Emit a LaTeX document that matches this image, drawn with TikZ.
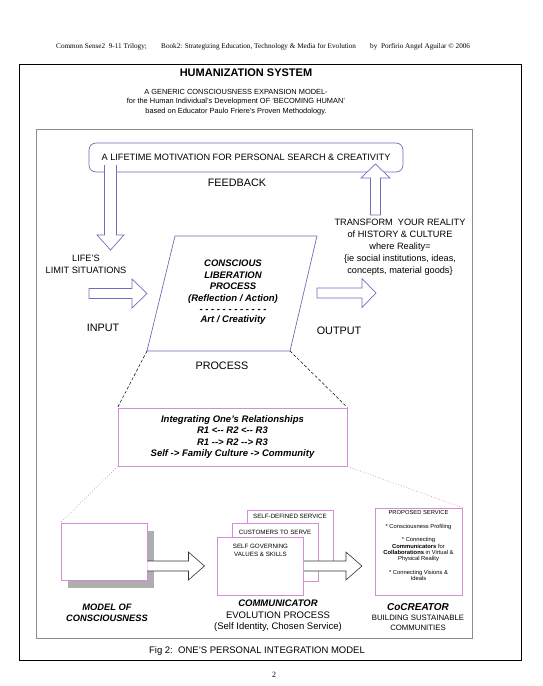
\documentclass[tikz,border=0pt]{standalone}
\usepackage{fontspec}
\setmainfont{Liberation Sans}
\newfontfamily\headfont{Liberation Serif}
\usetikzlibrary{positioning, shadows}
\definecolor{flowcol}{HTML}{6E6EBA}
\definecolor{relcol}{HTML}{D48CD4}
\definecolor{shadcol}{HTML}{AEAEAE}
\definecolor{framecol}{HTML}{8C8C8C}
\definecolor{blkcol}{HTML}{333333}

\begin{document}
\begin{tikzpicture}[
    x=1pt, y=-1pt,
    every node/.style={inner sep=0pt, align=center},
    hdr/.style={font=\headfont\fontsize{7.2}{8.6}\selectfont, anchor=west},
    ttl/.style={font=\fontsize{11}{13}\selectfont\bfseries},
    subttl/.style={font=\fontsize{7.4}{9.6}\selectfont},
    stage/.style={font=\fontsize{10.8}{13}\selectfont},
    note/.style={font=\fontsize{9.2}{12.2}\selectfont},
    bitxt/.style={font=\fontsize{9.5}{11.8}\selectfont\bfseries\itshape},
    flowbox/.style={draw=flowcol, fill=white, line width=0.7pt},
    flowarr/.style={draw=flowcol, fill=white, line width=0.7pt},
    relbox/.style={draw=relcol, fill=white, line width=0.9pt},
    stackbox/.style={relbox, minimum width=86, minimum height=58},
    stacklbl/.style={font=\fontsize{6.2}{8}\selectfont},
    blkarr/.style={draw=blkcol, fill=white, line width=0.6pt},
    zoomln/.style={line width=0.5pt, dash pattern=on 3pt off 2pt},
    zoomdot/.style={draw=relcol, dotted, line width=0.7pt},
]
\useasboundingbox (0,0) rectangle (542,686);

% === Page header ===
\node[hdr] (hdrA) at (56,47) {Common Sense2\ \ 9-11 Trilogy;};
\node[hdr] (hdrB) at (161,47) {Book2: Strategizing Education, Technology \& Media for Evolution};
\node[hdr] (hdrC) at (370,47) {by\ \ Porfirio Angel Aguilar © 2006};

% === Frames ===
\node[draw, line width=0.8pt, minimum width=502, minimum height=596] (page) at (270,362) {};
\node[draw=framecol, line width=0.6pt, minimum width=436, minimum height=509] (panel) at (254,383.5) {};

\node[ttl] (title) at (246,73) {HUMANIZATION SYSTEM};
\node[subttl] (subtitle) at (236,102) {A GENERIC CONSCIOUSNESS EXPANSION MODEL-\\
    for the Human Individual's Development OF `BECOMING HUMAN'\\
    based on Educator Paulo Friere's Proven Methodology.};

% === Feedback loop ===
\node[flowbox, rounded corners=7pt, minimum width=314, minimum height=29,
      font=\fontsize{9.2}{11}\selectfont] (motiv) at (246,157.5)
    {A LIFETIME MOTIVATION FOR PERSONAL SEARCH \& CREATIVITY};
\node[stage] (feedback) at (237,183) {FEEDBACK};

% === Process ===
\coordinate (pNW) at (175,236);
\coordinate (pNE) at (317,236);
\coordinate (pSE) at (290,351);
\coordinate (pSW) at (147,351);
\draw[flowbox] (pNW) -- (pNE) -- (pSE) -- (pSW) -- cycle;
\node[bitxt] (clp) at (233,292) {CONSCIOUS\\LIBERATION\\PROCESS\\(Reflection / Action)\\[-1pt]
    - - - - - - - - - - - -\\[-2pt]Art / Creativity};
\node[stage] (process) at (222,366) {PROCESS};

\node[note] (lifes) at (86,264.5) {LIFE'S\\LIMIT SITUATIONS};
\node[stage] (input) at (103,328) {INPUT};
\node[stage] (output) at (339,331) {OUTPUT};
\node[note, font=\fontsize{9.2}{12}\selectfont] (transform) at (400,247)
    {TRANSFORM\ \ YOUR REALITY\\of HISTORY \& CULTURE\\where Reality=\\
     \{ie social institutions, ideas,\\concepts, material goods\}};

% === Relationships ===
\node[relbox, minimum width=229, minimum height=58,
      font=\fontsize{9.5}{11.5}\selectfont\bfseries\itshape] (rel) at (232.5,437)
    {Integrating One's Relationships\\R1 <{-}{-} R2 <{-}{-} R3\\
     R1 {-}{-}> R2 {-}{-}> R3\\Self -> Family Culture -> Community};

\draw[zoomln] (pSW) -- (rel.north west);
\draw[zoomln] (pSE) -- (rel.north east);

% === Integration model (bottom row) ===
\node[relbox, minimum width=86, minimum height=57,
      drop shadow={shadow xshift=7pt, shadow yshift=-8pt, fill=shadcol, opacity=1}]
    (model) at (104,551.5) {};
\node[bitxt, font=\fontsize{9.3}{11}\selectfont\bfseries\itshape] (modellbl) at (107,612.5)
    {MODEL OF\\CONSCIOUSNESS};

\node[stackbox] (svc) at (290,539) {};
\node[stacklbl, below=4.5pt of svc.north] (svctxt) {SELF-DEFINED SERVICE};
\node[stackbox] (cust) at (275,552) {};
\node[stacklbl, below=7.5pt of cust.north] (custtxt) {CUSTOMERS TO SERVE};
\node[stackbox] (vals) at (260.5,566) {};
\node[stacklbl, below=7pt of vals.north] (valstxt) {SELF GOVERNING\\VALUES \& SKILLS};
\node[font=\fontsize{9.5}{11.5}\selectfont] (commlbl) at (278,616)
    {\textbf{\textit{COMMUNICATOR}}\\EVOLUTION PROCESS\\(Self Identity, Chosen Service)};

\node[relbox, minimum width=87, minimum height=87] (cocr) at (418.5,551.5) {};
\node[font=\fontsize{5.8}{6.4}\selectfont, below=3pt of cocr.north] (svclist)
    {PROPOSED SERVICE\\[7pt]* Consciousness Profiling\\[7pt]* Connecting\\
     \textbf{Communicators} for\\\textbf{Collaborations} in Virtual \&\\Physical Reality\\[7pt]
     * Connecting Visions \&\\Ideals};
\node[font=\fontsize{7.8}{10}\selectfont] (cocrlbl) at (418,617)
    {{\fontsize{10}{10}\selectfont\bfseries\itshape CoCREATOR}\\BUILDING SUSTAINABLE\\COMMUNITIES};

\draw[zoomdot] (rel.south west) -- (model.north west);
\draw[zoomdot] (rel.south east) -- (cocr.north east);

% === Block arrows ===
% feedback down / up
\draw[flowarr] (104.5,165) -- ++(0,70) -- ++(-7.5,0) -- ++(13.5,15) -- ++(13.5,-15)
    -- ++(-7.5,0) -- ++(0,-70);
\draw[flowarr] (370.5,215) -- ++(0,-37) -- ++(-9.5,0) -- ++(14.5,-14) -- ++(14.5,14)
    -- ++(-9.5,0) -- ++(0,37) -- cycle;
% input / output
\draw[flowarr] (89,288.5) -- ++(43,0) -- ++(0,-9.5) -- ++(15,14.5) -- ++(-15,14.5)
    -- ++(0,-9.5) -- ++(-43,0) -- cycle;
\draw[flowarr] (317,288) -- ++(45,0) -- ++(0,-9.5) -- ++(14,14.5) -- ++(-14,14.5)
    -- ++(0,-9.5) -- ++(-45,0) -- cycle;
% model -> communicator -> cocreator
\draw[blkarr] (model.east) ++(0,9.5) -- ++(41,0) -- ++(0,-9) -- ++(16,14) -- ++(-16,14)
    -- ++(0,-9) -- ++(-41,0);
\draw[blkarr] (vals.east) ++(0,-5) -- ++(42,0) -- ++(0,-9) -- ++(16,14) -- ++(-16,14)
    -- ++(0,-9) -- ++(-42,0);

\node[font=\fontsize{9.5}{11}\selectfont] (caption) at (257,651)
    {Fig 2:\ \ ONE'S PERSONAL INTEGRATION MODEL};
\node[font=\headfont\fontsize{8}{9}\selectfont] (pageno) at (274,675) {2};

\end{tikzpicture}
\end{document}
